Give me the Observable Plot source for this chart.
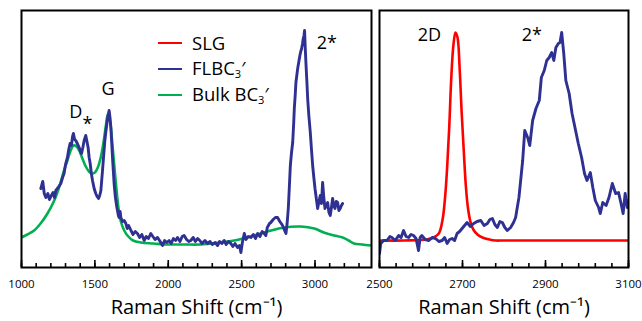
<!DOCTYPE html>
<html>
<head>
<meta charset="utf-8">
<script src="https://cdn.jsdelivr.net/npm/d3@7"></script>
<script src="https://cdn.jsdelivr.net/npm/@observablehq/plot@0.6"></script>
<style>
  html, body { margin: 0; padding: 0; background: white; }
  #wrap { position: relative; width: 642px; height: 321px; font-family: 'Open Sans', sans-serif; overflow: hidden; }
  #wrap > svg { position: absolute; top: 0; }
  .leg { position: absolute; left: 158px; font-size: 18.5px; line-height: 1; }
  .leg .sw { position: absolute; left: 0; width: 24px; height: 2.5px; }
  .leg .lb { position: absolute; left: 34px; white-space: nowrap; transform: translateY(-50%); }
  .leg sub { font-size: 0.6em; vertical-align: -0.25em; }
</style>
</head>
<body>
<div id="wrap"></div>
<script>
// ---- Left panel: FLBC3' (blue)
const flbcLeftWn = [1132,1145,1155,1166,1180,1190,1200,1215,1225,1234,1250,1268,1280,1290,1300,1313,1322,1331,1340,1348,1354,1362,1370,1380,1393,1402,1409,1418,1427,1438,1446,1454,1461,1468,1476,1484,1495,1506,1515,1525,1533,1541,1552,1560,1568,1575,1582,1590,1597,1603,1609,1615,1620,1626,1631,1640,1650,1654,1660,1665,1672,1677,1688,1700,1711,1720,1730,1746,1760,1775,1790,1805,1820,1836,1850,1865,1881,1895,1910,1927,1945,1961,1975,1990,2006,2020,2035,2050,2063,2080,2095,2108,2125,2140,2154,2170,2185,2200,2215,2230,2250,2268,2285,2300,2320,2336,2350,2365,2381,2395,2410,2427,2440,2455,2472,2485,2495,2505,2518,2530,2545,2563,2580,2595,2609,2625,2640,2654,2665,2675,2690,2699,2715,2730,2745,2760,2770,2779,2790,2802,2810,2818,2825,2832,2840,2848,2855,2859,2865,2870,2876,2882,2890,2897,2903,2909,2915,2920,2925,2929,2934,2939,2945,2950,2958,2968,2976,2984,2992,3000,3008,3018,3027,3036,3044,3052,3060,3068,3077,3086,3095,3104,3112,3120,3128,3136,3145,3154,3163,3172,3180,3188];
const flbcLeftI = [79,86,74,70,74,68,71,75,70,77,80,84,90,94,103,110,118,124,122,131,134,128,127,124,120,116,114,120,127,132,126,120,110,104,94,87,79,74,71,69,72,77,97,112,127,136,144,152,157,150,140,124,110,96,84,70,60,57,52,50,56,50,46,47,44,39,42,37,33,36,34,30,33,27,31,29,34,31,28,30,26,22,27,25,27,24,29,27,30,26,31,32,28,26,27,30,26,29,27,24,27,24,26,23,25,22,26,24,27,23,26,24,21,24,20,22,15,25,34,28,31,30,33,29,34,31,36,34,32,40,44,45,48,50,50,46,44,42,38,34,44,59,80,102,115,125,145,159,172,185,192,199,206,212,216,219,224,229,232,237,218,202,185,169,152,135,118,102,90,79,70,59,66,72,64,85,70,59,62,65,55,52,60,69,62,59,66,65,57,59,62,64];

// ---- Left panel: Bulk BC3' (green)
const bulkWn = [1000,1040,1086,1130,1177,1220,1256,1290,1313,1335,1354,1375,1393,1415,1438,1460,1480,1500,1520,1540,1560,1575,1588,1598,1609,1620,1631,1642,1654,1665,1677,1700,1722,1760,1813,1900,1995,2100,2222,2350,2450,2560,2677,2790,2904,2995,3060,3131,3188,3230,3266,3320,3385];
const bulkI = [30,33,37,44,54,66,80,97,107,117,122,121,117,109,101,96,94,95,100,110,126,142,153,150,140,122,104,86,68,55,46,37,32,27,25,24,23,23,23,25,27,31,36,40,41,39,35,32,30,27,24,23,22];

// ---- Right panel: SLG (red)
const slgWn = [2500,2560,2614,2630,2643,2652,2658,2663,2668,2673,2678,2683,2688,2693,2698,2703,2708,2713,2719,2726,2736,2748,2765,2780,2800,3100];
const slgI = [27,27,28,30,34,48,70,100,140,190,222,235,230,200,155,117,82,60,46,38,33,30,28,27,27,27];

// ---- Right panel: FLBC3' (blue)
const flbcRightWn = [2500,2503,2510,2518,2525,2530,2538,2546,2552,2558,2564,2570,2576,2582,2588,2594,2598,2602,2610,2619,2627,2635,2643,2651,2657,2663,2669,2675,2681,2687,2693,2699,2705,2711,2719,2727,2735,2744,2752,2760,2766,2772,2778,2784,2790,2796,2802,2808,2816,2823,2828,2836,2845,2850,2857,2862,2869,2877,2885,2890,2897,2903,2909,2915,2920,2925,2931,2935,2939,2944,2949,2957,2964,2971,2979,2987,2994,3000,3008,3014,3020,3028,3032,3038,3046,3053,3061,3069,3076,3082,3087,3092,3097,3100];
const flbcRightI = [14,24,27,27,31,30,27,32,30,37,31,30,33,32,29,17,30,32,28,27,30,29,26,27,30,24,28,29,27,34,36,39,42,45,41,44,46,47,42,44,48,49,43,40,46,45,40,37,40,45,50,70,107,137,130,122,147,159,167,190,197,207,210,215,207,220,224,225,235,214,187,174,154,140,124,110,94,87,95,80,67,60,54,65,62,70,84,74,75,64,54,74,60,67];

// ---- Ticks and labels
const leftMajor = [1000, 1500, 2000, 2500, 3000];
const leftMinor = d3.range(1000, 3386, 100);
const rightMajor = [2500, 2700, 2900, 3100];
const rightMinor = d3.range(2500, 3101, 40);
const xTitle = "Raman Shift (cm\u207B\u00B9)";

// ---- Peak annotations
const leftLabelText = ["D", "*", "G", "2*"];
const leftLabelWn = [1370, 1450, 1590, 3081];
const leftLabelI = [155, 143, 178, 224];
const rightLabelText = ["2D", "2*"];
const rightLabelWn = [2620, 2867];
const rightLabelI = [232, 232];

const BLUE = "#2e3192", GREEN = "#00b050", RED = "#ff0000";

const toRows = (xs, ys) => xs.map((x, k) => ({wn: x, i: ys[k]}));
const toLabels = (ts, xs, ys) => ts.map((t, k) => ({t, wn: xs[k], i: ys[k]}));

function panel({width, marginLeft, marginRight, domain, minor, major, lines, labels}) {
  return Plot.plot({
    width, height: 321,
    marginLeft, marginRight, marginTop: 10, marginBottom: 54,
    style: {fontFamily: "'Open Sans', sans-serif", background: "transparent", overflow: "visible", color: "black"},
    x: {domain},
    y: {domain: [0, 257], axis: null},
    marks: [
      ...lines.map(l => Plot.line(l.data, {x: "wn", y: "i", stroke: l.color, strokeWidth: l.sw, curve: l.curve, clip: true})),
      Plot.axisX(minor, {tickSize: -4, strokeWidth: 1.6, fill: "none", label: null}),
      Plot.axisX(major, {tickSize: -7, strokeWidth: 1.6, fill: "none", label: null}),
      Plot.axisX(major, {tickSize: 0, tickPadding: 12, fontSize: 11.5, label: null, tickFormat: d => String(d)}),
      Plot.axisX([], {tickSize: 0, label: xTitle, labelAnchor: "center", labelArrow: "none", labelOffset: 46, fontSize: 20}),
      Plot.text(labels, {x: "wn", y: "i", text: "t", fontSize: 18, fill: "black"}),
      Plot.frame({stroke: "black", strokeWidth: 2})
    ]
  });
}

const left = panel({
  width: 380, marginLeft: 21, marginRight: 9, domain: [1000, 3385],
  minor: leftMinor, major: leftMajor,
  lines: [
    {data: toRows(bulkWn, bulkI), color: GREEN, curve: "catmull-rom", sw: 2.6},
    {data: toRows(flbcLeftWn, flbcLeftI), color: BLUE, curve: "linear", sw: 2.9}
  ],
  labels: toLabels(leftLabelText, leftLabelWn, leftLabelI)
});
left.style.left = "0px";

const right = panel({
  width: 302, marginLeft: 39, marginRight: 14, domain: [2500, 3100],
  minor: rightMinor, major: rightMajor,
  lines: [
    {data: toRows(slgWn, slgI), color: RED, curve: "catmull-rom", sw: 2.6},
    {data: toRows(flbcRightWn, flbcRightI), color: BLUE, curve: "linear", sw: 2.9}
  ],
  labels: toLabels(rightLabelText, rightLabelWn, rightLabelI)
});
right.style.left = "340px";

const wrap = document.getElementById("wrap");
wrap.appendChild(left);
wrap.appendChild(right);

// ---- Legend
const legendItems = [
  {html: "SLG", color: RED, top: 43},
  {html: "FLBC<sub>3</sub>\u2032", color: BLUE, top: 69},
  {html: "Bulk BC<sub>3</sub>\u2032", color: GREEN, top: 95}
];
for (const it of legendItems) {
  const d = document.createElement("div");
  d.className = "leg";
  d.style.top = it.top + "px";
  d.innerHTML = `<div class="sw" style="background:${it.color};top:-1.25px"></div><div class="lb">${it.html}</div>`;
  wrap.appendChild(d);
}
</script>
</body>
</html>
